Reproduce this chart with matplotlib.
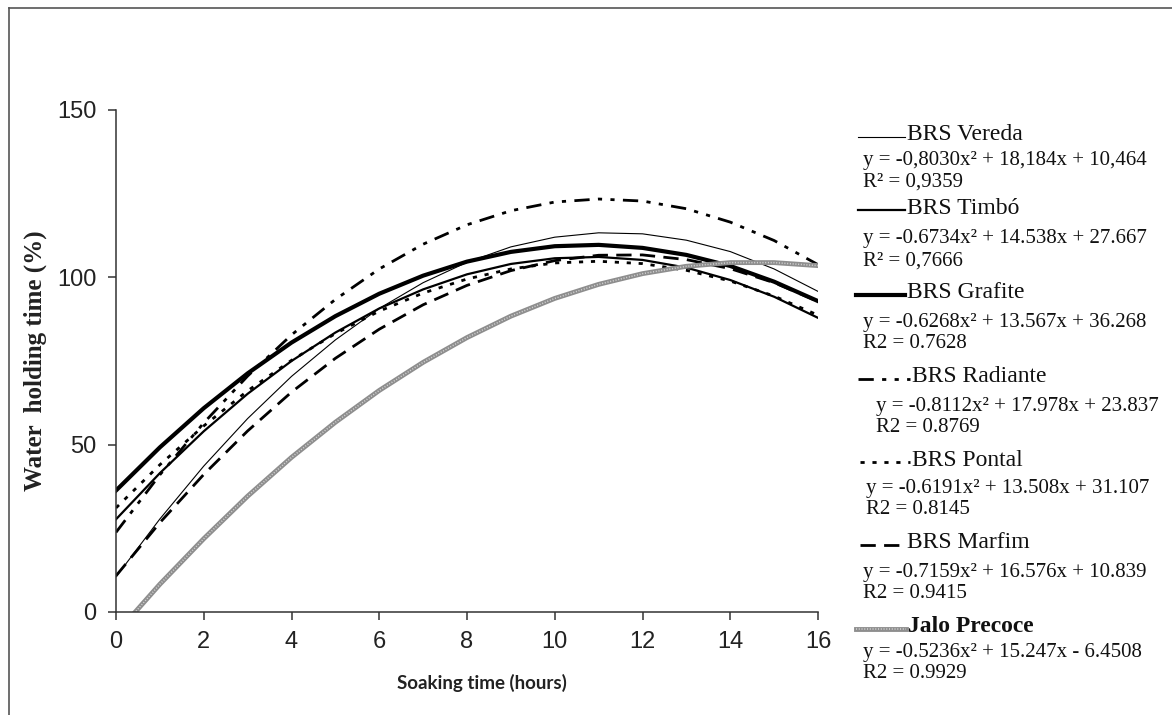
import matplotlib
matplotlib.use("Agg")
import matplotlib.pyplot as plt
from matplotlib.lines import Line2D

# values at every hour
hours = list(range(17))
vereda = [10.5, 27.8, 43.6, 57.8, 70.4, 81.3, 90.7, 98.4, 104.5, 109.1, 112.0,
          113.3, 113.0, 111.1, 107.7, 102.5, 95.8]
timbo = [27.7, 41.5, 54.0, 65.2, 75.0, 83.5, 90.7, 96.4, 100.9, 104.0, 105.7,
         106.1, 105.2, 102.9, 99.2, 94.2, 87.9]
grafite = [36.3, 49.2, 60.9, 71.3, 80.5, 88.4, 95.1, 100.5, 104.7, 107.6, 109.3,
           109.7, 108.8, 106.7, 103.4, 98.7, 92.9]
radiante = [23.8, 41.0, 56.5, 70.5, 82.8, 93.4, 102.5, 109.9, 115.7, 119.9, 122.5,
            123.4, 122.8, 120.5, 116.5, 111.0, 103.8]
pontal = [31.1, 44.0, 55.6, 66.1, 75.2, 83.2, 89.9, 95.3, 99.5, 102.5, 104.3,
          104.8, 104.1, 102.1, 98.9, 94.4, 88.7]
marfim = [10.8, 26.7, 41.1, 54.1, 65.7, 75.8, 84.5, 91.8, 97.6, 102.0, 105.0,
          106.6, 106.7, 105.3, 102.6, 98.4, 92.8]
jalo = [-6.5, 8.3, 21.9, 34.6, 46.2, 56.7, 66.2, 74.6, 82.0, 88.4, 93.7,
        97.9, 101.1, 103.3, 104.4, 104.4, 103.5]

names = ["BRS Vereda", "BRS Timbó", "BRS Grafite", "BRS Radiante",
         "BRS Pontal", "BRS Marfim", "Jalo Precoce"]
equations = ["y = -0,8030x² + 18,184x + 10,464",
             "y = -0.6734x² + 14.538x + 27.667",
             "y = -0.6268x² + 13.567x + 36.268",
             "y = -0.8112x² + 17.978x + 23.837",
             "y = -0.6191x² + 13.508x + 31.107",
             "y = -0.7159x² + 16.576x + 10.839",
             "y = -0.5236x² + 15.247x - 6.4508"]
r2_labels = ["R² = 0,9359", "R² = 0,7666", "R2 = 0.7628", "R2 = 0.8769",
             "R2 = 0.8145", "R2 = 0.9415", "R2 = 0.9929"]
series = [vereda, timbo, grafite, radiante, pontal, marfim, jalo]

styles = [
    dict(color="black", lw=0.8, ls="-"),
    dict(color="black", lw=1.6, ls="-"),
    dict(color="black", lw=3.0, ls="-"),
    dict(color="black", lw=2.0, ls=(0, (5.5, 3, 1.5, 3, 1.5, 3))),
    dict(color="black", lw=2.0, ls=(0, (1.5, 2.8))),
    dict(color="black", lw=2.0, ls=(0, (5.5, 3))),
    dict(color="#8e8e8e", lw=3.5, ls="-"),
]
# light stipple drawn over the grey Jalo line to mimic its hatched texture
stipple = dict(color="#d2d2d2", lw=1.1, ls=(0, (0.7, 1.1)))

W, H = 1172, 715
serif = "Liberation Serif"
sans = "Liberation Sans"

fig = plt.figure(figsize=(W / 100, H / 100), dpi=100)
ax = fig.add_axes([116 / W, 1 - 612 / H, 702 / W, 502 / H])

for vals, st in zip(series, styles):
    ax.plot(hours, vals, **st)
ax.plot(hours, jalo, **stipple)

ax.set_xlim(0, 16)
ax.set_ylim(0, 150)
ax.set_xticks(range(0, 17, 2))
ax.set_yticks([0, 50, 100, 150])
for s in ["top", "right"]:
    ax.spines[s].set_visible(False)
for s in ["left", "bottom"]:
    ax.spines[s].set_color("#333333")
    ax.spines[s].set_linewidth(1.1)
ax.tick_params(direction="out", length=6, width=1.1, color="#333333",
               labelsize=17, labelcolor="#222222", pad=8)
for lab in ax.get_xticklabels() + ax.get_yticklabels():
    lab.set_fontfamily(sans)

ax.set_xlabel("Soaking time (hours)", fontsize=13.5, fontweight="bold",
              family="Lato", color="#222222", va="center")
ax.xaxis.set_label_coords((482 - 116) / 702, (612 - 683) / 502)
ax.set_ylabel("Water  holding time (%)", fontsize=18, fontweight="bold",
              family=serif, color="#222222", va="center")
ax.yaxis.set_label_coords((35 - 116) / 702, 0.5)

# legend drawn by hand, pixel positions from the reference
name_y = [135, 208, 293, 377, 460, 543, 627]
eq_y = [161, 239, 323, 406, 489, 573, 653]
r2_y = [182, 261, 344, 427, 510, 594, 674]
eq_x = [863, 863, 863, 876, 866, 863, 863]
line_x = [(858, 905), (858, 905), (856, 905), (858, 910), (860, 910), (860, 905), (856, 906)]

def fx(px):
    return px / W

def fy(py):
    return 1 - py / H

for i in range(7):
    x0, x1 = line_x[i]
    yy = fy(name_y[i] + 2)
    fig.add_artist(Line2D([fx(x0), fx(x1)], [yy, yy], transform=fig.transFigure, **styles[i]))
    if i == 6:
        fig.add_artist(Line2D([fx(x0), fx(x1)], [yy, yy], transform=fig.transFigure, **stipple))
    fig.text(fx(x1 + 2), fy(name_y[i]), names[i], family=serif, fontsize=17,
             va="center", ha="left", color="#111111",
             fontweight="bold" if i == 6 else "normal")
    fig.text(fx(eq_x[i]), fy(eq_y[i]), equations[i], family=serif, fontsize=15,
             va="center", ha="left", color="#111111")
    fig.text(fx(eq_x[i]), fy(r2_y[i]), r2_labels[i], family=serif, fontsize=15,
             va="center", ha="left", color="#111111")

# outer frame (only top and left edges fall inside the picture)
fig.add_artist(Line2D([fx(9), 1], [fy(8), fy(8)], transform=fig.transFigure,
                      color="#555555", lw=1.2))
fig.add_artist(Line2D([fx(9), fx(9)], [fy(8), 0], transform=fig.transFigure,
                      color="#555555", lw=1.2))

fig.savefig("out.png", dpi=100)
